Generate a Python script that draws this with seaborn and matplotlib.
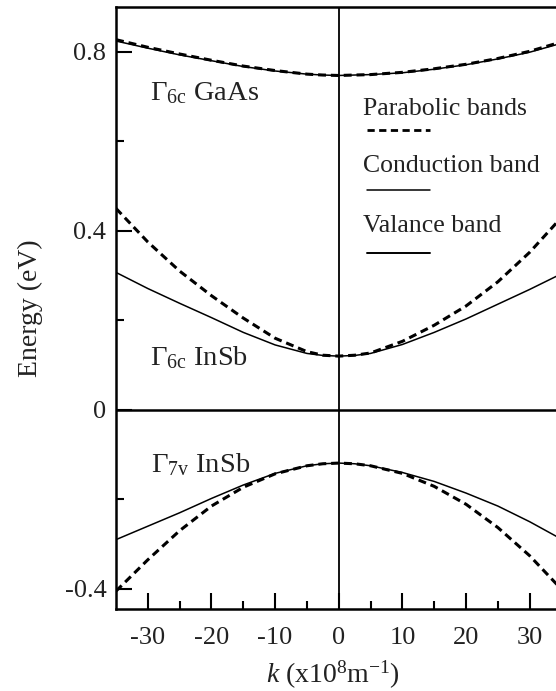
import numpy as np
import pandas as pd
import matplotlib
matplotlib.use("Agg")
import matplotlib.pyplot as plt
from matplotlib.lines import Line2D
import seaborn as sns

# Wave vector samples (x10^8 m^-1)
k = [-35, -30, -25, -20, -15, -10, -5, -2.5, 0, 2.5, 5, 10, 15, 20, 25, 30, 35]

# GaAs Gamma_6c conduction band: parabolic and full model nearly coincide
gaas_parabolic = [0.827, 0.810, 0.795, 0.781, 0.768, 0.758, 0.750, 0.748, 0.747,
                  0.748, 0.749, 0.754, 0.762, 0.772, 0.785, 0.801, 0.822]
gaas_conduction = [0.824, 0.808, 0.793, 0.780, 0.767, 0.757, 0.750, 0.748, 0.747,
                   0.748, 0.749, 0.753, 0.761, 0.771, 0.784, 0.799, 0.819]

# InSb Gamma_6c conduction band
insb_c_parabolic = [0.450, 0.375, 0.310, 0.255, 0.205, 0.160, 0.130, 0.122, 0.120,
                    0.122, 0.127, 0.153, 0.189, 0.232, 0.286, 0.352, 0.430]
insb_c_band = [0.307, 0.271, 0.238, 0.206, 0.173, 0.145, 0.126, 0.1215, 0.120,
               0.1215, 0.126, 0.146, 0.173, 0.203, 0.236, 0.269, 0.304]

# InSb Gamma_7v valence band
insb_v_parabolic = [-0.405, -0.335, -0.270, -0.215, -0.173, -0.143, -0.125, -0.1205, -0.119,
                    -0.1205, -0.125, -0.142, -0.171, -0.211, -0.263, -0.326, -0.401]
insb_v_band = [-0.290, -0.260, -0.230, -0.198, -0.168, -0.142, -0.125, -0.1205, -0.119,
               -0.1205, -0.125, -0.140, -0.160, -0.186, -0.215, -0.250, -0.289]

x_ticks = [-30, -20, -10, 0, 10, 20, 30]
x_minor = [-25, -15, -5, 5, 15, 25]
y_ticks = [-0.4, 0.0, 0.4, 0.8]
y_tick_labels = ["-0.4", "0", "0.4", "0.8"]
y_minor = [-0.2, 0.2, 0.6]

sns.set_theme(style="ticks")
plt.rcParams["font.family"] = ["Liberation Serif", "DejaVu Serif"]
plt.rcParams["mathtext.fontset"] = "custom"
plt.rcParams["mathtext.rm"] = "Liberation Serif"
plt.rcParams["mathtext.it"] = "Liberation Serif:italic"
plt.rcParams["axes.unicode_minus"] = False

fig = plt.figure(figsize=(5.56, 6.91), dpi=100)
ax = fig.add_axes([116 / 556, 1 - 609 / 691, 445.5 / 556, 602 / 691])

frames = []
for name, vals in [("gaas_p", gaas_parabolic), ("gaas_c", gaas_conduction),
                   ("insb_cp", insb_c_parabolic), ("insb_c", insb_c_band),
                   ("insb_vp", insb_v_parabolic), ("insb_v", insb_v_band)]:
    frames.append(pd.DataFrame({"k": k, "E": vals, "curve": name}))
df = pd.concat(frames, ignore_index=True)

solid_kw = dict(color="black", linewidth=1.1, estimator=None, sort=False, legend=False)
dash_kw = dict(color="black", linewidth=2.2, estimator=None, sort=False, legend=False)

for name in ["gaas_c", "insb_c", "insb_v"]:
    sns.lineplot(data=df[df.curve == name], x="k", y="E", ax=ax, **solid_kw)
for name in ["gaas_p", "insb_cp", "insb_vp"]:
    sns.lineplot(data=df[df.curve == name], x="k", y="E", ax=ax, **dash_kw)
for line in ax.lines[3:6]:
    line.set_dashes((2.6, 1.6))
    line.set_solid_joinstyle("round")

# Axis cross lines at E = 0 and k = 0
ax.axhline(0, color="black", linewidth=1.8)
ax.axvline(0, color="black", linewidth=1.3)

ax.set_xlim(-35, 35)
ax.set_ylim(-0.445, 0.9)

ax.set_xticks(x_ticks)
ax.set_xticklabels([str(v) for v in x_ticks])
ax.set_xticks(x_minor, minor=True)
ax.set_yticks(y_ticks)
ax.set_yticklabels(y_tick_labels)
ax.set_yticks(y_minor, minor=True)

ax.tick_params(axis="both", which="major", direction="in", length=11.5, width=1.5,
               labelsize=19, color="black", labelcolor="#222222")
ax.tick_params(axis="both", which="minor", direction="in", length=5.8, width=1.5,
               color="black")
ax.tick_params(axis="x", which="both", top=False, pad=13)
ax.tick_params(axis="y", which="both", right=False, pad=7)

for side in ["left", "bottom", "top", "right"]:
    ax.spines[side].set_linewidth(1.8)
    ax.spines[side].set_color("black")

ax.set_xlabel(r"$k$ (x10$^{8}$m$^{-1}$)", fontsize=20, color="#222222")
ax.set_ylabel("Energy (eV)", fontsize=20, color="#222222")
ax.xaxis.set_label_coords(0.487, -0.083)
ax.xaxis.label.set_va("top")
ax.yaxis.set_label_coords(-0.163, 0.5)

# Band labels
ax.text(-29.6, 0.693, r"$\mathregular{\Gamma_{6c}}$ GaAs", fontsize=20.5, color="#222222")
ax.text(-29.6, 0.100, r"$\mathregular{\Gamma_{6c}}$ InSb", fontsize=20.5, color="#222222")
ax.text(-29.5, -0.139, r"$\mathregular{\Gamma_{7v}}$ InSb", fontsize=20.5, color="#222222")

# Key: caption above each line sample
ax.text(3.8, 0.659, "Parabolic bands", fontsize=18.5, color="#222222")
ax.text(3.8, 0.532, "Conduction band", fontsize=18.5, color="#222222")
ax.text(3.8, 0.398, "Valance band", fontsize=18.5, color="#222222")
key_x = [(367 - 116) / 445.5, (430 - 116) / 445.5]
for ypx, style, lw in [(130, (2.6, 1.6), 2.0), (190, None, 1.1), (253, None, 1.4)]:
    yf = (609 - ypx) / 602
    ln = Line2D(key_x, [yf, yf], transform=ax.transAxes, color="black", linewidth=lw)
    if style is not None:
        ln.set_dashes(style)
    ax.add_line(ln)

fig.savefig("out.png", dpi=100)
